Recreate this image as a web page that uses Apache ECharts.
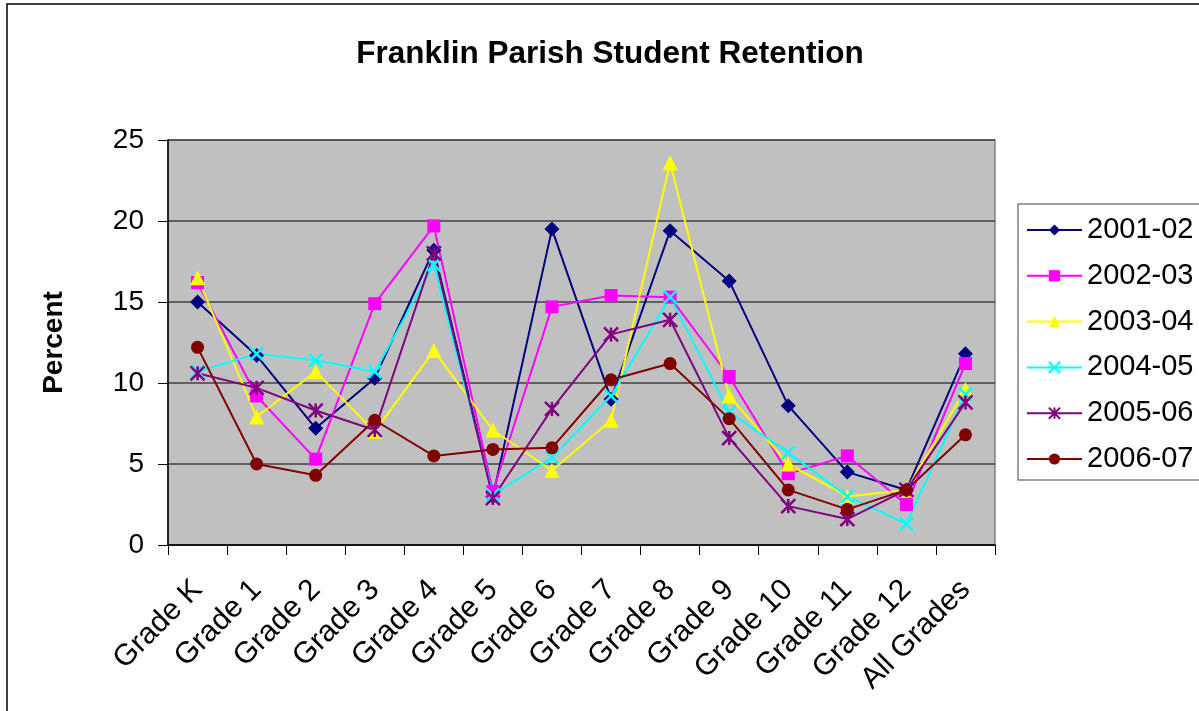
<!DOCTYPE html>
<html>
<head>
<meta charset="utf-8">
<script src="https://cdn.jsdelivr.net/npm/echarts@6/dist/echarts.min.js"></script>
<style>
html,body{margin:0;padding:0;background:#fff;}
#chart{width:1199px;height:711px;}
</style>
</head>
<body>
<div id="chart"></div>
<script>
var categories = ['Grade K','Grade 1','Grade 2','Grade 3','Grade 4','Grade 5','Grade 6','Grade 7','Grade 8','Grade 9','Grade 10','Grade 11','Grade 12','All Grades'];
var seriesNames = ['2001-02','2002-03','2003-04','2004-05','2005-06','2006-07'];
var v2001 = [15.0, 11.7, 7.2, 10.3, 18.2, 3.0, 19.5, 9.0, 19.4, 16.3, 8.6, 4.5, 3.4, 11.8];
var v2002 = [16.2, 9.2, 5.3, 14.9, 19.7, 3.3, 14.7, 15.4, 15.3, 10.4, 4.4, 5.5, 2.5, 11.2];
var v2003 = [16.5, 7.9, 10.7, 7.0, 12.0, 7.1, 4.6, 7.7, 23.6, 9.2, 5.0, 3.0, 3.4, 9.6];
var v2004 = [10.7, 11.8, 11.4, 10.7, 17.3, 3.1, 5.4, 9.2, 15.3, 8.2, 5.7, 3.0, 1.3, 9.3];
var v2005 = [10.6, 9.7, 8.3, 7.1, 18.0, 2.9, 8.4, 13.0, 13.9, 6.6, 2.4, 1.6, 3.4, 8.8];
var v2006 = [12.2, 5.0, 4.3, 7.7, 5.5, 5.9, 6.0, 10.2, 11.2, 7.8, 3.4, 2.2, 3.4, 6.8];
var yTicks = [0, 5, 10, 15, 20, 25];

var FONT = '"Liberation Sans", Arial, sans-serif';
var values = [v2001, v2002, v2003, v2004, v2005, v2006];
var colors = ['#000080', '#ff00ff', '#ffff00', '#00ffff', '#800080', '#800000'];
var symbols = [
  'diamond',
  'rect',
  'triangle',
  'path://M0,0L10,10M10,0L0,10',
  'path://M5,0L5,10M0,0L10,10M10,0L0,10',
  'circle'
];
var sizes = [15, 13, 15, 13, 14, 13];

var series = values.map(function (d, i) {
  var stroked = i === 3 || i === 4;
  return {
    name: seriesNames[i],
    type: 'line',
    data: d,
    symbol: symbols[i],
    symbolSize: sizes[i],
    showAllSymbol: true,
    lineStyle: { color: colors[i], width: 2 },
    itemStyle: stroked
      ? { color: colors[i], borderColor: colors[i], borderWidth: 2.5 }
      : { color: colors[i], borderWidth: 0 },
    emphasis: { disabled: true },
    animation: false
  };
});

var chart = echarts.init(document.getElementById('chart'), null, { renderer: 'canvas' });
chart.setOption({
  backgroundColor: '#ffffff',
  animation: false,
  textStyle: { fontFamily: FONT },
  graphic: [
    {
      type: 'rect',
      shape: { x: 7, y: 4, width: 1300, height: 800 },
      style: { fill: 'none', stroke: '#000', lineWidth: 1.5 },
      silent: true
    },
    {
      type: 'text',
      style: {
        text: 'Franklin Parish Student Retention',
        x: 610, y: 54,
        textAlign: 'center', textVerticalAlign: 'middle',
        font: 'bold 31.5px ' + FONT, fill: '#000'
      },
      silent: true
    }
  ],
  grid: {
    left: 168, right: 204, top: 140, bottom: 166,
    show: true, backgroundColor: '#c0c0c0', borderColor: '#808080', borderWidth: 1.5
  },
  legend: {
    orient: 'vertical',
    left: 1018, top: 204,
    data: seriesNames,
    itemWidth: 55, itemHeight: 14,
    itemGap: 15.8,
    padding: [11, 40, 6, 8],
    backgroundColor: '#ffffff',
    borderColor: '#808080', borderWidth: 1.5,
    textStyle: { fontFamily: FONT, fontSize: 29, color: '#000', lineHeight: 30 },
    selectedMode: false
  },
  xAxis: {
    type: 'category',
    data: categories,
    boundaryGap: true,
    axisLine: { lineStyle: { color: '#000', width: 1.5 } },
    axisTick: { show: true, length: 10, lineStyle: { color: '#000' } },
    axisLabel: { rotate: 45, fontSize: 30, color: '#000', margin: 40, interval: 0, fontFamily: FONT },
    splitLine: { show: false }
  },
  yAxis: {
    type: 'value',
    min: 0, max: 25, interval: 5,
    name: 'Percent',
    nameLocation: 'middle',
    nameGap: 100,
    nameRotate: 90,
    nameTextStyle: { fontSize: 28, fontWeight: 'bold', color: '#000', fontFamily: FONT },
    axisLine: { show: true, lineStyle: { color: '#000', width: 1.5 } },
    axisTick: { show: true, length: 10, lineStyle: { color: '#000' } },
    axisLabel: {
      fontSize: 28, color: '#000', margin: 24, fontFamily: FONT,
      formatter: function (v) { return yTicks.indexOf(v) >= 0 ? String(v) : ''; }
    },
    splitLine: { show: true, lineStyle: { color: '#404040', width: 1.5 } }
  },
  series: series
});
</script>
</body>
</html>
